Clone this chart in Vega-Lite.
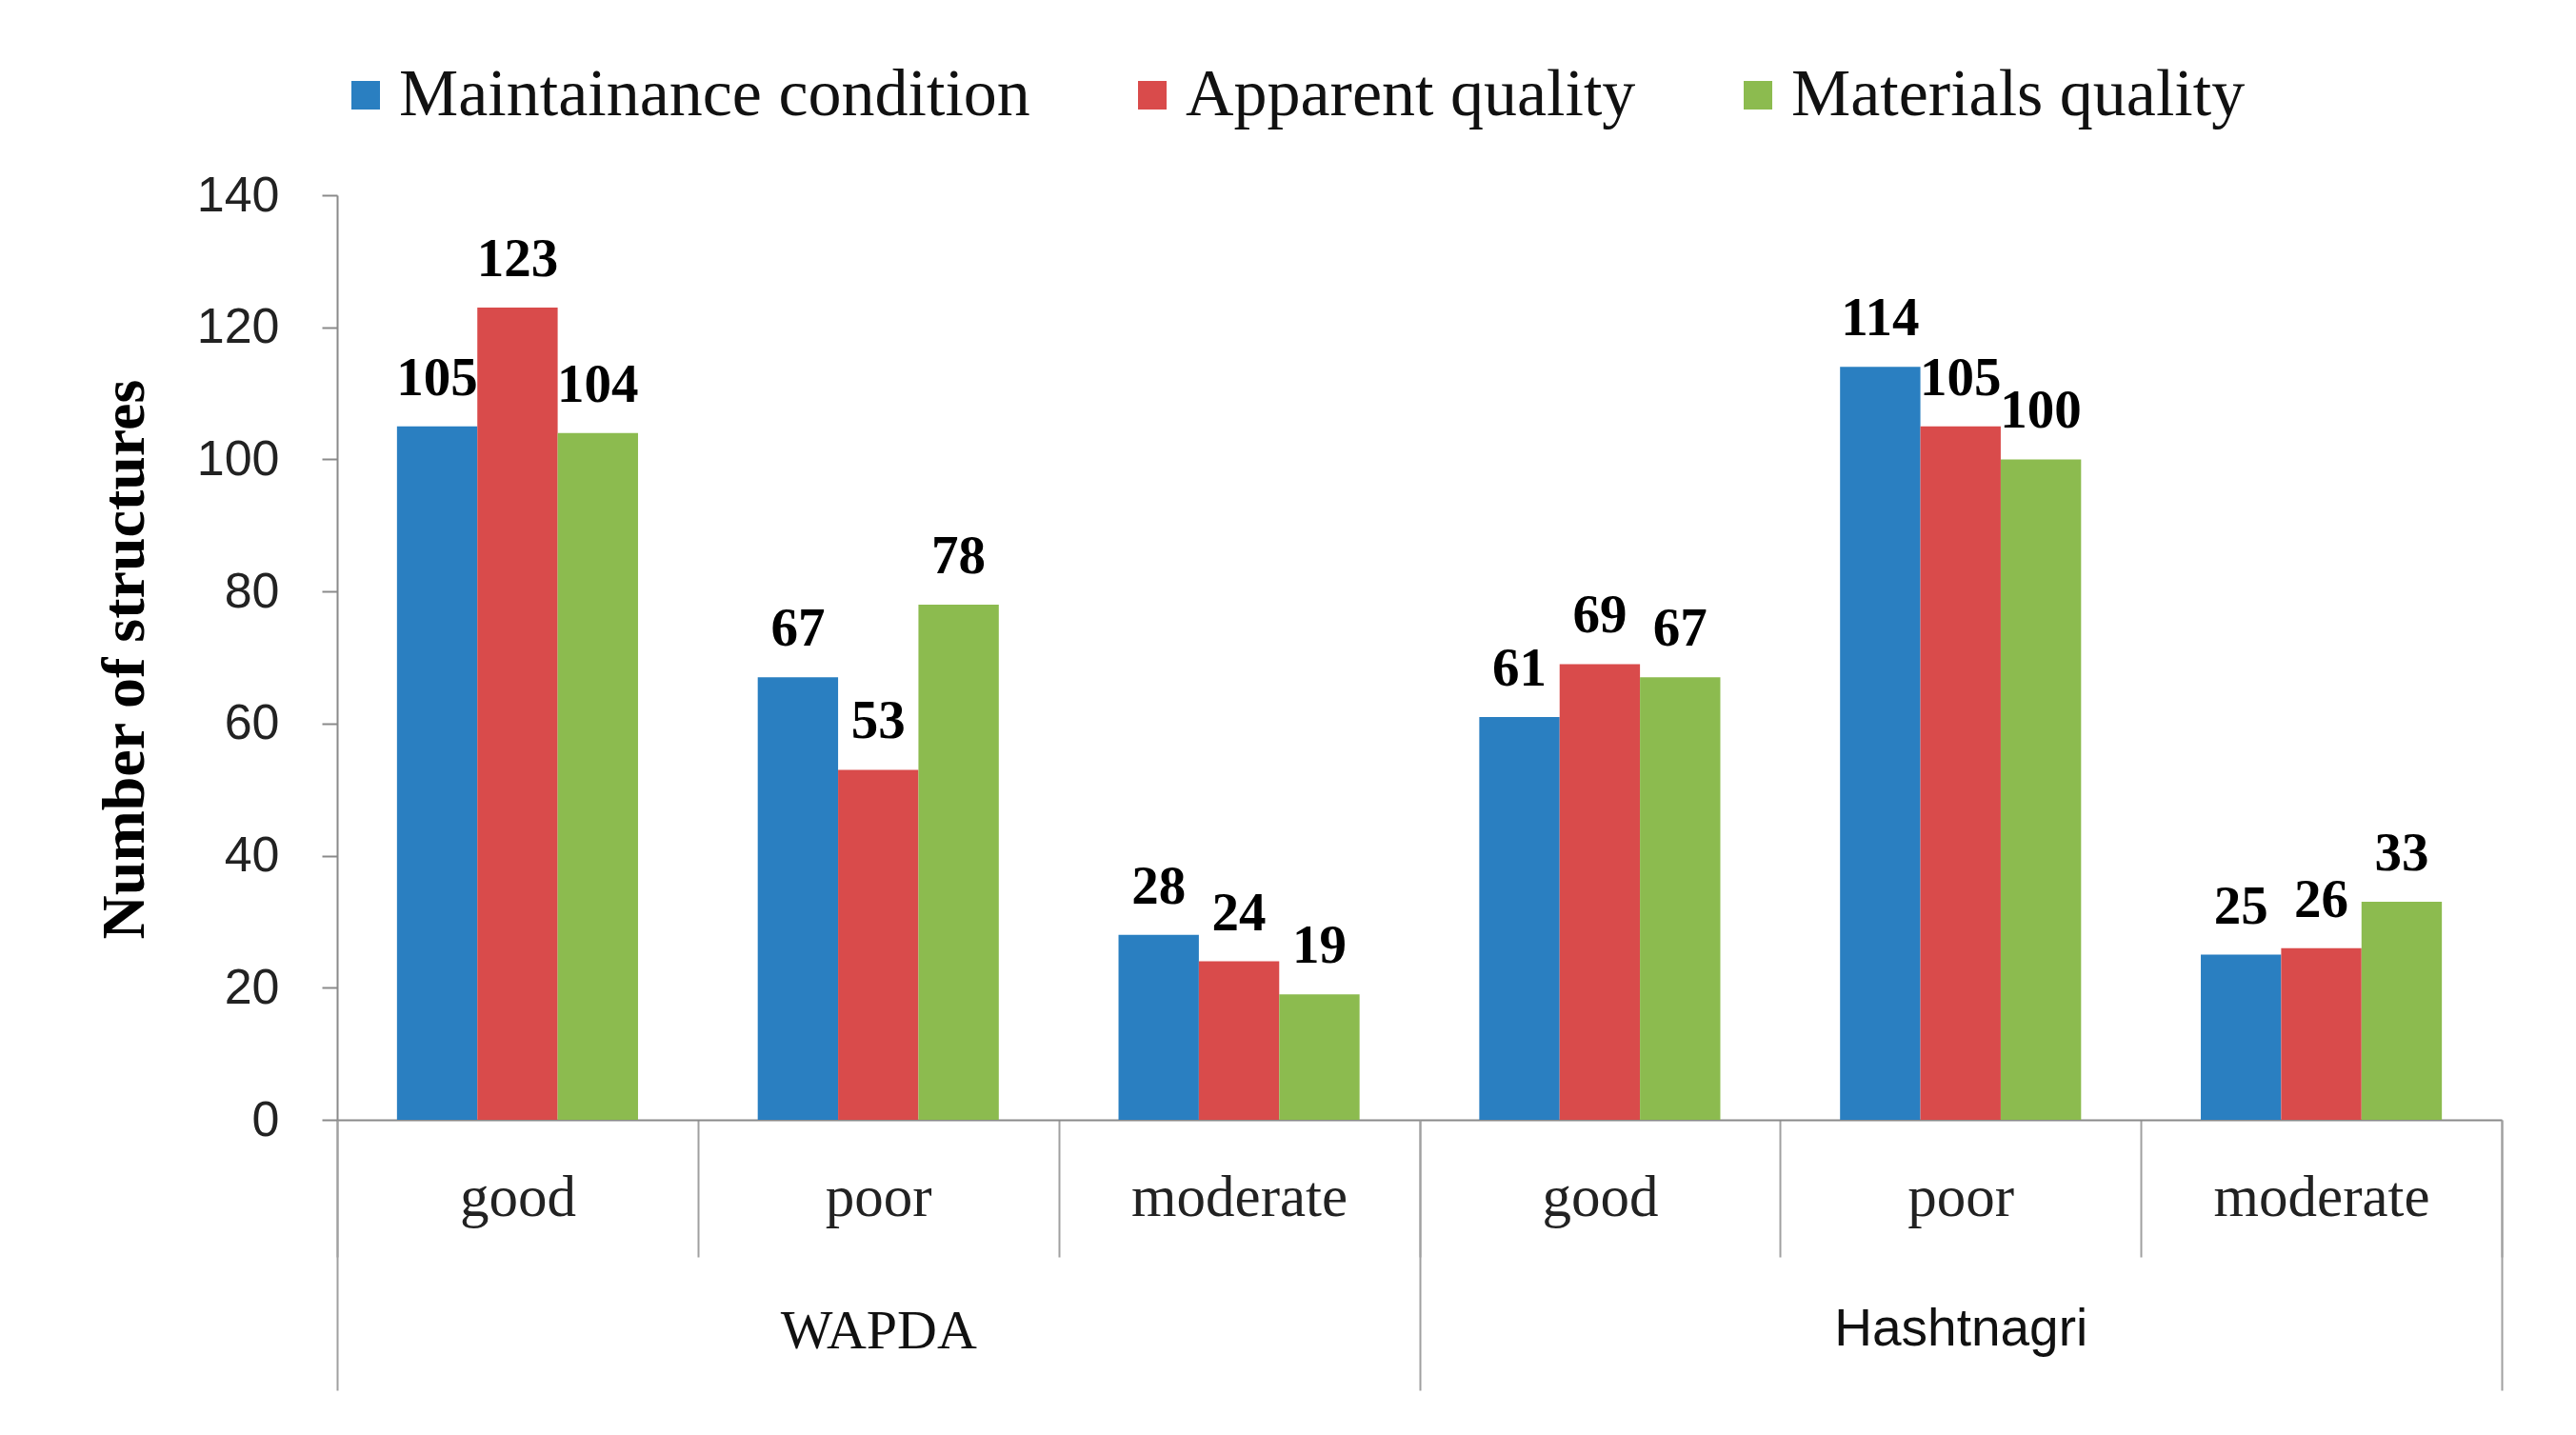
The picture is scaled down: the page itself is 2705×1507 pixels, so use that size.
{
  "$schema": "https://vega.github.io/schema/vega-lite/v6.json",
  "width": 2273,
  "height": 971,
  "autosize": {"type": "none"},
  "padding": {"left": 354, "top": 205, "right": 78, "bottom": 331},
  "background": "white",
  "data": {
    "values": [
      {"site": "WAPDA", "condition": "good", "group": "WAPDA|good", "series": "Maintainance condition", "value": 105},
      {"site": "WAPDA", "condition": "good", "group": "WAPDA|good", "series": "Apparent quality", "value": 123},
      {"site": "WAPDA", "condition": "good", "group": "WAPDA|good", "series": "Materials quality", "value": 104},
      {"site": "WAPDA", "condition": "poor", "group": "WAPDA|poor", "series": "Maintainance condition", "value": 67},
      {"site": "WAPDA", "condition": "poor", "group": "WAPDA|poor", "series": "Apparent quality", "value": 53},
      {"site": "WAPDA", "condition": "poor", "group": "WAPDA|poor", "series": "Materials quality", "value": 78},
      {"site": "WAPDA", "condition": "moderate", "group": "WAPDA|moderate", "series": "Maintainance condition", "value": 28},
      {"site": "WAPDA", "condition": "moderate", "group": "WAPDA|moderate", "series": "Apparent quality", "value": 24},
      {"site": "WAPDA", "condition": "moderate", "group": "WAPDA|moderate", "series": "Materials quality", "value": 19},
      {"site": "Hashtnagri", "condition": "good", "group": "Hashtnagri|good", "series": "Maintainance condition", "value": 61},
      {"site": "Hashtnagri", "condition": "good", "group": "Hashtnagri|good", "series": "Apparent quality", "value": 69},
      {"site": "Hashtnagri", "condition": "good", "group": "Hashtnagri|good", "series": "Materials quality", "value": 67},
      {"site": "Hashtnagri", "condition": "poor", "group": "Hashtnagri|poor", "series": "Maintainance condition", "value": 114},
      {"site": "Hashtnagri", "condition": "poor", "group": "Hashtnagri|poor", "series": "Apparent quality", "value": 105},
      {"site": "Hashtnagri", "condition": "poor", "group": "Hashtnagri|poor", "series": "Materials quality", "value": 100},
      {"site": "Hashtnagri", "condition": "moderate", "group": "Hashtnagri|moderate", "series": "Maintainance condition", "value": 25},
      {"site": "Hashtnagri", "condition": "moderate", "group": "Hashtnagri|moderate", "series": "Apparent quality", "value": 26},
      {"site": "Hashtnagri", "condition": "moderate", "group": "Hashtnagri|moderate", "series": "Materials quality", "value": 33}
    ]
  },
  "layer": [
    {
      "encoding": {
        "x": {
          "field": "group",
          "type": "nominal",
          "sort": null,
          "scale": {"paddingInner": 0, "paddingOuter": 0},
          "axis": {
            "title": null,
            "labelExpr": "split(datum.label, '|')[1]",
            "labelAngle": 0,
            "labelFont": "Liberation Serif",
            "labelFontSize": 61,
            "labelColor": "#222222",
            "labelPadding": -92,
            "labelOverlap": false,
            "labelFlush": false,
            "labelLimit": 500,
            "tickBand": "extent",
            "tickSize": 144,
            "tickColor": "#a0a0a0",
            "tickWidth": 2,
            "domainColor": "#8a8a8a",
            "domainWidth": 2,
            "grid": false
          }
        },
        "xOffset": {
          "field": "series",
          "type": "nominal",
          "sort": ["Maintainance condition", "Apparent quality", "Materials quality"],
          "scale": {"paddingInner": 0, "paddingOuter": 0.745}
        },
        "y": {
          "field": "value",
          "type": "quantitative",
          "scale": {"domain": [0, 140], "nice": false},
          "axis": {
            "title": "Number of structures",
            "titleFont": "Liberation Serif",
            "titleFontWeight": "bold",
            "titleFontSize": 64,
            "titleColor": "black",
            "titleAngle": -90,
            "titleBaseline": "middle",
            "titleAlign": "center",
            "titleX": -223,
            "titleY": 487,
            "values": [0, 20, 40, 60, 80, 100, 120, 140],
            "labelFont": "Liberation Sans",
            "labelFontSize": 52,
            "labelColor": "#222222",
            "labelPadding": 45,
            "tickSize": 16,
            "tickColor": "#8a8a8a",
            "tickWidth": 2,
            "domainColor": "#8a8a8a",
            "domainWidth": 2,
            "grid": false
          }
        }
      },
      "layer": [
        {
          "mark": {"type": "bar"},
          "encoding": {
            "color": {
              "field": "series",
              "type": "nominal",
              "sort": ["Maintainance condition", "Apparent quality", "Materials quality"],
              "scale": {
                "domain": ["Maintainance condition", "Apparent quality", "Materials quality"],
                "range": ["#2a7fc1", "#d94b4b", "#8cbb4f"]
              },
              "legend": {
                "title": null,
                "orient": "none",
                "direction": "horizontal",
                "legendX": -5,
                "legendY": -140,
                "padding": 0,
                "symbolType": "square",
                "symbolSize": 900,
                "symbolStrokeWidth": 0,
                "labelFont": "Liberation Serif",
                "labelFontSize": 70,
                "labelColor": "#111111",
                "labelOffset": 0,
                "labelLimit": 1000,
                "columnPadding": 93
              }
            }
          }
        },
        {
          "mark": {
            "type": "text",
            "font": "Liberation Serif",
            "fontWeight": "bold",
            "fontSize": 57,
            "baseline": "alphabetic",
            "dy": -33,
            "color": "black"
          },
          "encoding": {
            "text": {"field": "value", "type": "quantitative"}
          }
        }
      ]
    },
    {
      "mark": {"type": "point", "opacity": 0},
      "encoding": {
        "x": {
          "field": "site",
          "type": "nominal",
          "sort": ["WAPDA", "Hashtnagri"],
          "scale": {"paddingInner": 0, "paddingOuter": 0},
          "axis": {
            "title": null,
            "orient": "bottom",
            "domain": false,
            "labelAngle": 0,
            "labelFont": {"condition": {"test": "datum.value == 'Hashtnagri'", "value": "Liberation Sans"}, "value": "Liberation Serif"},
            "labelFontSize": {"condition": {"test": "datum.value == 'Hashtnagri'", "value": 55}, "value": 58},
            "labelColor": "#111111",
            "labelPadding": -91,
            "labelOverlap": false,
            "labelFlush": false,
            "labelLimit": 500,
            "tickBand": "extent",
            "tickSize": 284,
            "tickColor": "#a0a0a0",
            "tickWidth": 2,
            "grid": false
          }
        }
      }
    }
  ],
  "resolve": {"scale": {"x": "independent"}},
  "config": {
    "view": {"stroke": null}
  }
}
